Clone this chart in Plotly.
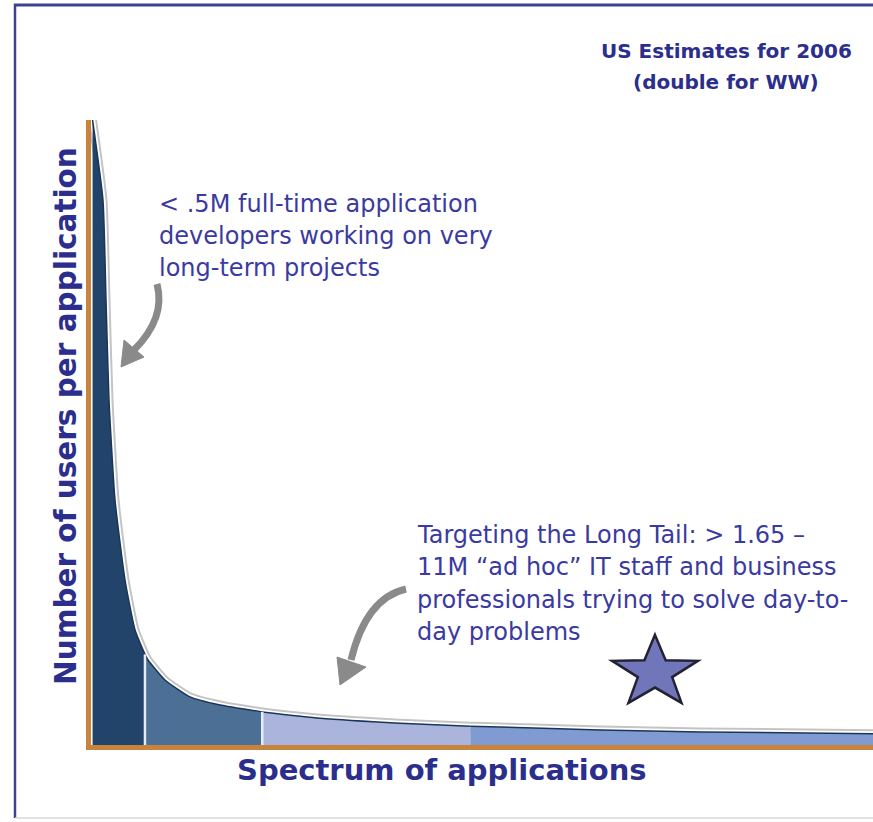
import math
import plotly.graph_objects as go

# ---------------- data ----------------
# x: position along the spectrum of applications (0-100), y: users per application (0-100)
curve_x = [0.2, 1.53, 1.92, 2.30, 3.07, 4.35, 5.63, 6.9, 7.29, 9.46, 12.66, 16.5, 21.9,
           29.3, 39.5, 48.5, 52.3, 65.1, 77.9, 100.0]
curve_y = [100.0, 87.2, 71.2, 55.2, 39.2, 26.4, 18.4, 14.5, 13.6, 10.4, 7.7, 6.4, 5.3,
           4.3, 3.5, 3.0, 2.9, 2.4, 2.1, 1.8]
# indices of the segment boundaries in the curve lists
segment_bounds = [0, 7, 12, 15, 19]
segment_colors = ["#22436a", "#4b6f95", "#aab4dd", "#809bd2"]

title_top = ["US Estimates for 2006", "(double for WW)"]
note_head = ["< .5M full-time application", "developers working on very", "long-term projects"]
note_tail = ["Targeting the Long Tail: > 1.65 \u2013", "11M \u201cad hoc\u201d IT staff and business",
             "professionals trying to solve day-to-", "day problems"]
x_title = "Spectrum of applications"
y_title = "Number of users per application"

# ---------------- figure ----------------
W, H = 873, 822
L, R, T, B = 91, 0, 120, 77
PW, PH = W - L - R, H - T - B


def px(x):
    return (x - L) / PW


def py(y):
    return (H - B - y) / PH


def P(x, y):
    return f"{px(x):.4f},{py(y):.4f}"


NAVY = "#2b2e8c"
TXT = "#3a3aa0"
BODY_FONT = "DejaVu Sans, Liberation Sans, sans-serif"

fig = go.Figure()

# halo above the curve (gray then white)
fig.add_trace(go.Scatter(x=curve_x, y=curve_y, mode="lines",
                         line=dict(color="#c4c4c4", width=9, shape="spline", smoothing=0.5),
                         hoverinfo="skip", showlegend=False))
fig.add_trace(go.Scatter(x=curve_x, y=curve_y, mode="lines",
                         line=dict(color="white", width=5, shape="spline", smoothing=0.5),
                         hoverinfo="skip", showlegend=False))

# filled segments
for i in range(4):
    a, b = segment_bounds[i], segment_bounds[i + 1]
    fig.add_trace(go.Scatter(x=curve_x[a:b + 1], y=curve_y[a:b + 1], mode="lines", fill="tozeroy",
                             fillcolor=segment_colors[i],
                             line=dict(color="#1b3558", width=1.5, shape="spline", smoothing=0.5),
                             hoverinfo="skip", showlegend=False))

# white separators between segments
for k in segment_bounds[1:3]:
    fig.add_trace(go.Scatter(x=[curve_x[k], curve_x[k]], y=[0, curve_y[k]], mode="lines",
                             line=dict(color="#e8ecf6", width=2.5), hoverinfo="skip", showlegend=False))

ann = []
for j, t in enumerate(title_top):
    ann.append(dict(text=t, x=px(726), y=py(51 + 31 * j), xref="paper", yref="paper", showarrow=False,
                    xanchor="center", yanchor="middle",
                    font=dict(family=BODY_FONT, size=20, color=NAVY, weight="bold")))
for j, t in enumerate(note_head):
    ann.append(dict(text=t, x=px(157), y=py(204 + 32.2 * j), xref="paper", yref="paper", showarrow=False,
                    xanchor="left", yanchor="middle",
                    font=dict(family=BODY_FONT, size=24, color=TXT)))
for j, t in enumerate(note_tail):
    ann.append(dict(text=t, x=px(415), y=py(535 + 32.3 * j), xref="paper", yref="paper", showarrow=False,
                    xanchor="left", yanchor="middle",
                    font=dict(family=BODY_FONT, size=24, color=TXT)))
ann.append(dict(text=x_title, x=px(442), y=py(770), xref="paper", yref="paper", showarrow=False,
                xanchor="center", yanchor="middle",
                font=dict(family=BODY_FONT, size=29, color=NAVY, weight="bold")))
ann.append(dict(text=y_title, x=px(66), y=py(416), xref="paper", yref="paper", showarrow=False, textangle=-90,
                xanchor="center", yanchor="middle",
                font=dict(family=BODY_FONT, size=29.5, color=NAVY, weight="bold")))

shapes = []
# frame
shapes.append(dict(type="line", xref="paper", yref="paper", x0=px(14), x1=px(880), y0=py(5), y1=py(5),
                   line=dict(color="#3c4190", width=3)))
shapes.append(dict(type="line", xref="paper", yref="paper", x0=px(15), x1=px(15), y0=py(4), y1=py(818),
                   line=dict(color="#3c4190", width=2.5)))
shapes.append(dict(type="line", xref="paper", yref="paper", x0=px(15), x1=px(880), y0=py(818), y1=py(818),
                   line=dict(color="#d8d8d8", width=1.5)))

ARROW = "#8a8a8a"
# arrow 1 (curved)
shapes.append(dict(type="path", xref="paper", yref="paper",
                   path=f"M {P(157, 284)} Q {P(166, 318)} {P(134, 350)}",
                   line=dict(color=ARROW, width=7)))
shapes.append(dict(type="path", xref="paper", yref="paper",
                   path=f"M {P(124, 340)} L {P(144, 357)} L {P(121, 367)} Z",
                   fillcolor=ARROW, line=dict(color=ARROW, width=1)))
# arrow 2 (curved)
shapes.append(dict(type="path", xref="paper", yref="paper",
                   path=f"M {P(406, 589)} Q {P(366, 598)} {P(351, 660)}",
                   line=dict(color=ARROW, width=7)))
shapes.append(dict(type="path", xref="paper", yref="paper",
                   path=f"M {P(337, 657)} L {P(366, 667)} L {P(340, 685)} Z",
                   fillcolor=ARROW, line=dict(color=ARROW, width=1)))

# star decoration (slightly wide, as in the reference)
cx, cy, ro = 655, 672.5, 37.6
pts = []
for k in range(10):
    r = ro if k % 2 == 0 else ro * 0.40
    ang = math.radians(-90 + 36 * k)
    pts.append(P(cx + 1.2 * r * math.cos(ang), cy + r * math.sin(ang)))
shapes.append(dict(type="path", xref="paper", yref="paper", path="M " + " L ".join(pts) + " Z",
                   fillcolor="#7176bb", line=dict(color="#222233", width=2.5)))

fig.update_layout(
    width=W, height=H,
    margin=dict(l=L, r=R, t=T, b=B),
    paper_bgcolor="white", plot_bgcolor="white",
    annotations=ann, shapes=shapes,
    xaxis=dict(range=[0, 100], showgrid=False, zeroline=False, showticklabels=False, ticks="",
               showline=True, linecolor="#c8843c", linewidth=5, fixedrange=True),
    yaxis=dict(range=[0, 100], showgrid=False, zeroline=False, showticklabels=False, ticks="",
               showline=True, linecolor="#c8843c", linewidth=5, fixedrange=True),
    showlegend=False,
)

fig.write_html("out.html", config={"displayModeBar": False},
               post_script="document.body.style.margin='0';")
